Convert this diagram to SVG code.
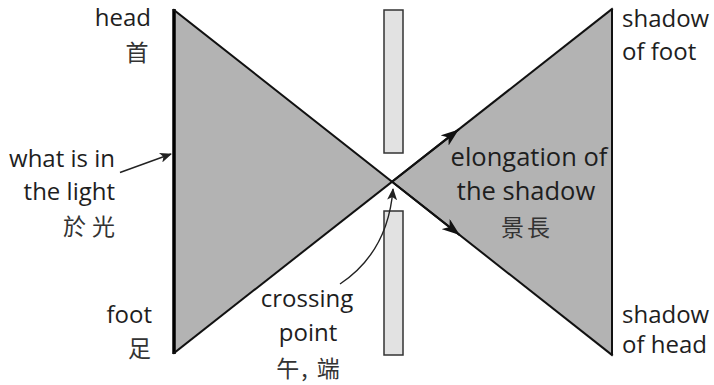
<svg xmlns="http://www.w3.org/2000/svg" width="714" height="385" viewBox="0 0 714 385">
<defs>
<style>
.lbl{font-family:"Open Sans","Noto Sans",sans-serif;font-size:24px;fill:#1e1e1e}
.big{font-size:25.5px}
.cjk{font-family:"Noto Sans CJK TC",sans-serif;font-size:23px;fill:#333}
.tri{fill:#b3b3b3;stroke:none}
.edge{stroke:#111;stroke-width:2;fill:none;stroke-linecap:square}
.slit{fill:#e2e2e2;stroke:#333;stroke-width:1.5}
.thin{stroke:#222;stroke-width:1.4;fill:none}
</style>
<marker id="ah" viewBox="0 0 18 13" refX="17" refY="6.5" markerWidth="18" markerHeight="13" markerUnits="userSpaceOnUse" orient="auto">
<path d="M0,0 L18,6.5 L0,13 L5,6.5 Z" fill="#111"/>
</marker>
<marker id="ahs" viewBox="0 0 12 10" refX="11" refY="5" markerWidth="12" markerHeight="10" markerUnits="userSpaceOnUse" orient="auto">
<path d="M0,0 L12,5 L0,10 L3,5 Z" fill="#222"/>
</marker>
</defs>
<rect width="714" height="385" fill="#fff"/>
<g id="slit-top"><rect class="slit" x="384" y="10" width="19" height="143"/></g>
<g id="slit-bottom"><rect class="slit" x="384" y="211" width="19" height="144"/></g>
<g id="object">
<polygon class="tri" points="174,10 174,353 392,181.7"/>
<line x1="174" y1="9" x2="174" y2="354" stroke="#000" stroke-width="3.5"/>
</g>
<g id="shadow">
<polygon class="tri" points="392,181.7 612,9 612,355"/>
<line x1="612" y1="9" x2="612" y2="355" stroke="#111" stroke-width="2"/>
</g>
<g id="connectors">
<line class="edge" x1="174" y1="10" x2="612" y2="355"/>
<line class="edge" x1="174" y1="353" x2="612" y2="9"/>
<line class="edge" x1="392" y1="181.7" x2="458" y2="130" marker-end="url(#ah)"/>
<line class="edge" x1="392" y1="181.7" x2="459" y2="234.5" marker-end="url(#ah)"/>
<line class="thin" x1="120" y1="172.5" x2="171" y2="154" marker-end="url(#ahs)"/>
<path class="thin" d="M340,284 Q388,252 393,189" marker-end="url(#ahs)"/>
</g>
<g id="label-head">
<text class="lbl" x="151" y="26" text-anchor="end">head</text>
<text class="cjk" x="137" y="61" text-anchor="middle">首</text>
</g>
<g id="label-light">
<text class="lbl" x="115" y="167" text-anchor="end">what is in</text>
<text class="lbl" x="115" y="200" text-anchor="end">the light</text>
<text class="cjk" x="121" y="235" text-anchor="end" letter-spacing="6">於光</text>
</g>
<g id="label-foot">
<text class="lbl" x="152" y="323" text-anchor="end">foot</text>
<text class="cjk" x="151" y="357" text-anchor="end">足</text>
</g>
<g id="label-crossing">
<text class="lbl" x="307" y="307" text-anchor="middle">crossing</text>
<text class="lbl" x="308" y="341" text-anchor="middle">point</text>
<text class="cjk" x="309" y="377" text-anchor="middle" letter-spacing="2">午, 端</text>
</g>
<g id="label-elongation">
<text class="lbl big" x="529" y="166" text-anchor="middle">elongation of</text>
<text class="lbl big" x="526" y="200" text-anchor="middle">the shadow</text>
<text class="cjk" x="527" y="236" text-anchor="middle" letter-spacing="3">景長</text>
</g>
<g id="label-shadow-foot">
<text class="lbl" x="622" y="27">shadow</text>
<text class="lbl" x="622" y="60">of foot</text>
</g>
<g id="label-shadow-head">
<text class="lbl" x="622" y="323">shadow</text>
<text class="lbl" x="622" y="353">of head</text>
</g>
</svg>
